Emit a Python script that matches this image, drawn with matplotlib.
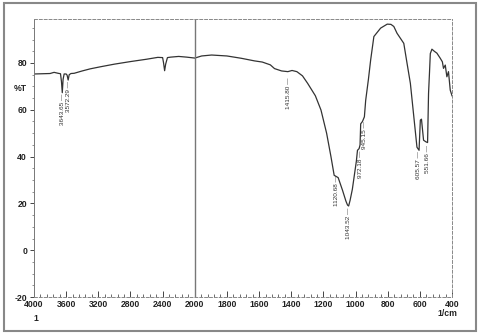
import numpy as np
import matplotlib
matplotlib.use("Agg")
import matplotlib.pyplot as plt
from matplotlib.ticker import FixedLocator, MultipleLocator
from matplotlib.patches import Rectangle

# FTIR spectrum
wavenumber = [4000, 3900, 3800, 3750, 3700, 3670, 3658, 3648, 3638, 3625, 3600,
              3588, 3575, 3562, 3540, 3500, 3400, 3300, 3170, 3000, 2800, 2600,
              2460, 2400, 2388, 2375, 2362, 2340, 2300, 2200, 2100, 2000, 1957,
              1895, 1800, 1710, 1629, 1580, 1530, 1504, 1460, 1421, 1395, 1365,
              1330, 1298, 1250, 1215, 1180, 1153, 1133, 1120, 1108, 1081, 1060,
              1050, 1043, 1034, 1020, 1009, 995, 988, 978, 972, 968, 957, 945,
              937, 920, 906, 886, 844, 803, 780, 762, 742, 700, 680, 659, 630,
              618, 605, 597, 590, 577, 562, 552, 546, 540, 535, 525, 510, 494,
              473, 460, 453, 442, 432, 422, 411, 400]
transmittance = [75.3, 75.4, 75.5, 76.0, 75.6, 75.4, 72.0, 67.3, 73.0, 75.3, 75.3,
                 74.8, 72.7, 75.0, 75.5, 75.6, 76.6, 77.5, 78.4, 79.5, 80.6, 81.6,
                 82.4, 82.3, 80.0, 76.7, 79.5, 82.3, 82.5, 82.8, 82.5, 82.1, 83.0,
                 83.4, 83.0, 82.0, 80.9, 80.4, 79.2, 77.6, 76.6, 76.3, 76.8, 76.3,
                 74.5, 71.3, 66.0, 59.9, 50.0, 40.0, 32.0, 31.5, 31.0, 25.6, 21.0,
                 19.3, 18.9, 21.3, 26.0, 31.3, 38.0, 42.7, 43.4, 45.0, 54.0, 55.0,
                 57.0, 64.0, 73.0, 81.3, 91.3, 94.9, 96.6, 96.5, 95.6, 92.7, 88.4,
                 80.0, 71.3, 52.0, 44.0, 42.7, 55.6, 56.0, 47.0, 46.3, 46.0, 67.0,
                 76.0, 84.0, 85.9, 85.0, 84.2, 82.0, 80.5, 77.7, 79.1, 74.1, 76.3,
                 68.4, 66.0]

peak_labels = ["3643.65", "3572.29", "1415.80", "1120.68", "1043.52",
               "972.18", "945.15", "605.57", "551.66"]
peak_pos = [3643.65, 3572.29, 1415.80, 1120.68, 1043.52, 972.18, 945.15, 605.57, 551.66]
peak_top = [66.8, 72.2, 74.0, 32.0, 18.4, 42.7, 55.0, 42.5, 44.9]

x_ticks = [4000, 3600, 3200, 2800, 2400, 2000, 1800, 1600, 1400, 1200, 1000, 800, 600, 400]
y_ticks = [-20, 0, 20, 40, 60, 80]


# scale: 2000-400 region stretched twice as wide as 4000-2000
def fwd(w):
    w = np.asarray(w, dtype=float)
    return np.where(w >= 2000, w, 2 * w - 2000)


def inv(p):
    p = np.asarray(p, dtype=float)
    return np.where(p >= 2000, p, (p + 2000) / 2)


plt.rcParams['font.family'] = ['Liberation Sans', 'DejaVu Sans']

fig = plt.figure(figsize=(4.8, 3.36), dpi=100)
ax = fig.add_axes([0.0708, 0.116, 0.8709, 0.8275])
ax.set_xscale('function', functions=(fwd, inv))
ax.set_xlim(4000, 400)
ax.set_ylim(-20, 98.8)

ax.plot(wavenumber, transmittance, color='#333333', lw=0.9)
ax.axvline(2000, color='#777777', lw=1.0)

for lab, wx, ty in zip(peak_labels, peak_pos, peak_top):
    ax.text(wx, ty, lab + " \u2014", rotation=90, ha='center', va='top',
            fontsize=4.6, color='#333333')

# ticks
ax.xaxis.set_major_locator(FixedLocator(x_ticks))
minor_x = list(range(4000, 2000, -80)) + list(range(2000, 399, -40))
ax.xaxis.set_minor_locator(FixedLocator(minor_x))
ax.set_xticklabels([str(t) for t in x_ticks], fontweight='bold')
ax.yaxis.set_major_locator(FixedLocator(y_ticks))
ax.set_yticklabels([str(t) for t in y_ticks], fontweight='bold')
ax.yaxis.set_minor_locator(MultipleLocator(5))
ax.tick_params(axis='x', which='major', direction='in', length=4, width=0.7,
               labelsize=6.2, pad=2, colors='#444444', labelcolor='#222222')
ax.tick_params(axis='x', which='minor', direction='in', length=2, width=0.6,
               colors='#555555')
ax.tick_params(axis='y', which='major', direction='out', length=3, width=0.7,
               labelsize=6.2, pad=2, colors='#444444', labelcolor='#222222')
ax.tick_params(axis='y', which='minor', direction='out', length=1.5, width=0.5,
               colors='#666666')

for side in ['top', 'right', 'bottom']:
    ax.spines[side].set_linestyle((0, (3, 2)))
    ax.spines[side].set_color('#888888')
    ax.spines[side].set_linewidth(0.7)
ax.spines['left'].set_color('#777777')
ax.spines['left'].set_linewidth(0.7)

fig.text(0.042, 0.738, "%T", fontsize=6.2, fontweight='bold', ha='center', va='center', color='#222222')
fig.text(0.075, 0.053, "1", fontsize=6.2, fontweight='bold', ha='center', va='center', color='#222222')
fig.text(0.933, 0.068, "1/cm", fontsize=6.2, fontweight='bold', ha='center', va='center', color='#222222')

fig.patches.append(Rectangle((0.009, 0.015), 0.982, 0.975, transform=fig.transFigure,
                             fill=False, edgecolor='#888888', lw=1.5))

fig.savefig("out.png", dpi=100)
